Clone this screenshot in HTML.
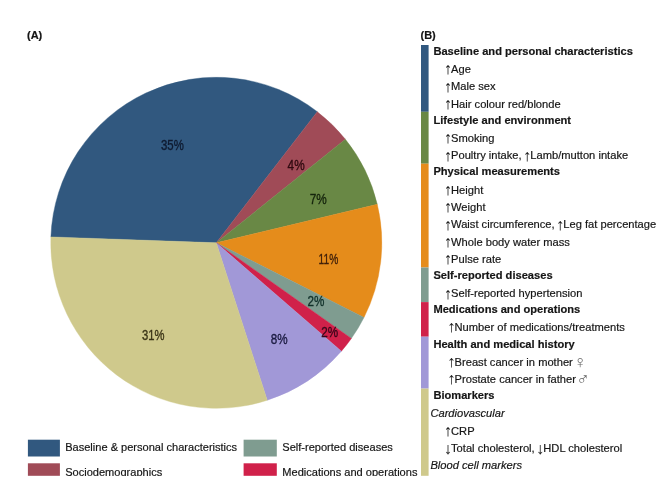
<!DOCTYPE html>
<html lang="en"><head><meta charset="utf-8"><title>Figure</title>
<style>
html,body{margin:0;padding:0;background:#fff;}
body{width:662px;height:491px;overflow:hidden;position:relative;}
svg{position:absolute;left:0;top:0;display:block;}
svg text{font-family:"Liberation Sans","DejaVu Sans",sans-serif;fill:#151515;stroke:#151515;stroke-width:0.18px;}
svg text.pl{fill:#14161c;stroke:#14161c;stroke-width:0.3px;}
svg .sx{fill:#666;stroke:none;}
svg .ar{stroke-width:0.08px;}
</style></head><body>
<svg width="662" height="491" viewBox="0 0 662 491">
<defs><clipPath id="crop"><rect x="0" y="0" width="662" height="476"/></clipPath></defs>
<rect width="662" height="491" fill="#ffffff"/>
<g clip-path="url(#crop)">
<g>
<path d="M216.30,242.80 L50.90,236.91 A165.5,165.5 0 0 1 317.28,111.68 Z" fill="#31587f" stroke="#31587f" stroke-width="0.4"/>
<path d="M216.30,242.80 L317.28,111.68 A165.5,165.5 0 0 1 345.37,139.21 Z" fill="#a04b57" stroke="#a04b57" stroke-width="0.4"/>
<path d="M216.30,242.80 L345.37,139.21 A165.5,165.5 0 0 1 377.26,204.31 Z" fill="#698845" stroke="#698845" stroke-width="0.4"/>
<path d="M216.30,242.80 L377.26,204.31 A165.5,165.5 0 0 1 364.02,317.42 Z" fill="#e58c1b" stroke="#e58c1b" stroke-width="0.4"/>
<path d="M216.30,242.80 L364.02,317.42 A165.5,165.5 0 0 1 351.37,338.44 Z" fill="#7f9c90" stroke="#7f9c90" stroke-width="0.4"/>
<path d="M216.30,242.80 L351.37,338.44 A165.5,165.5 0 0 1 341.39,351.16 Z" fill="#d0214a" stroke="#d0214a" stroke-width="0.4"/>
<path d="M216.30,242.80 L341.39,351.16 A165.5,165.5 0 0 1 267.28,400.25 Z" fill="#a198d7" stroke="#a198d7" stroke-width="0.4"/>
<path d="M216.30,242.80 L267.28,400.25 A165.5,165.5 0 0 1 50.90,236.91 Z" fill="#cfc98c" stroke="#cfc98c" stroke-width="0.4"/>
</g>
<g>
<text transform="translate(172.4,149.9) scale(0.78,1)" text-anchor="middle" font-size="14.6" style="fill:#0e1a30;stroke:#0e1a30;stroke-width:0.35px">35%</text>
<text transform="translate(296.1,170.3) scale(0.81,1)" text-anchor="middle" font-size="14.6" style="fill:#300a10;stroke:#300a10;stroke-width:0.35px">4%</text>
<text transform="translate(318.2,203.6) scale(0.81,1)" text-anchor="middle" font-size="14.6" style="fill:#15240c;stroke:#15240c;stroke-width:0.35px">7%</text>
<text transform="translate(328.4,264.3) scale(0.7,1)" text-anchor="middle" font-size="14.6" style="fill:#40200a;stroke:#40200a;stroke-width:0.35px">11%</text>
<text transform="translate(316.0,305.7) scale(0.8,1)" text-anchor="middle" font-size="14.6" style="fill:#10302a;stroke:#10302a;stroke-width:0.35px">2%</text>
<text transform="translate(329.8,337.0) scale(0.8,1)" text-anchor="middle" font-size="14.6" style="fill:#38061a;stroke:#38061a;stroke-width:0.35px">2%</text>
<text transform="translate(279.2,344.0) scale(0.8,1)" text-anchor="middle" font-size="14.6" style="fill:#1a1a40;stroke:#1a1a40;stroke-width:0.35px">8%</text>
<text transform="translate(153.2,339.5) scale(0.77,1)" text-anchor="middle" font-size="14.6" style="fill:#3a3416;stroke:#3a3416;stroke-width:0.35px">31%</text>
</g>
<text x="27" y="39.2" font-size="11" font-weight="bold">(A)</text>
<text x="420.5" y="39.3" font-size="11" font-weight="bold">(B)</text>
<g>
<rect x="421.0" y="45.00" width="7.6" height="66.80" fill="#31587f"/>
<rect x="421.0" y="111.80" width="7.6" height="51.90" fill="#698845"/>
<rect x="421.0" y="163.70" width="7.6" height="103.80" fill="#e58c1b"/>
<rect x="421.0" y="267.50" width="7.6" height="34.60" fill="#7f9c90"/>
<rect x="421.0" y="302.10" width="7.6" height="34.60" fill="#d0214a"/>
<rect x="421.0" y="336.70" width="7.6" height="51.90" fill="#a198d7"/>
<rect x="421.0" y="388.60" width="7.6" height="87.20" fill="#cfc98c"/>
</g>
<g>
<text x="433.4" y="54.60" font-size="11.12" font-weight="bold">Baseline and personal characteristics</text>
<text x="445.5" y="73.19" font-size="11.15"><tspan font-size="16.1" dx="-1.64" dy="1.20" class="ar">↑</tspan><tspan dx="-0.85" dy="-1.20">Age</tspan></text>
<text x="445.5" y="90.43" font-size="11.15"><tspan font-size="16.1" dx="-1.64" dy="1.20" class="ar">↑</tspan><tspan dx="-0.85" dy="-1.20">Male sex</tspan></text>
<text x="445.5" y="107.67" font-size="11.15"><tspan font-size="16.1" dx="-1.64" dy="1.20" class="ar">↑</tspan><tspan dx="-0.85" dy="-1.20">Hair colour red/blonde</tspan></text>
<text x="433.4" y="123.56" font-size="11.12" font-weight="bold">Lifestyle and environment</text>
<text x="445.5" y="142.15" font-size="11.15"><tspan font-size="16.1" dx="-1.64" dy="1.20" class="ar">↑</tspan><tspan dx="-0.85" dy="-1.20">Smoking</tspan></text>
<text x="445.5" y="159.39" font-size="11.15"><tspan font-size="16.1" dx="-1.64" dy="1.20" class="ar">↑</tspan><tspan dx="-0.85" dy="-1.20">Poultry intake, </tspan><tspan font-size="16.1" dx="-1.64" dy="1.20" class="ar">↑</tspan><tspan dx="-0.85" dy="-1.20">Lamb/mutton intake</tspan></text>
<text x="433.4" y="175.28" font-size="11.12" font-weight="bold">Physical measurements</text>
<text x="445.5" y="193.87" font-size="11.15"><tspan font-size="16.1" dx="-1.64" dy="1.20" class="ar">↑</tspan><tspan dx="-0.85" dy="-1.20">Height</tspan></text>
<text x="445.5" y="211.11" font-size="11.15"><tspan font-size="16.1" dx="-1.64" dy="1.20" class="ar">↑</tspan><tspan dx="-0.85" dy="-1.20">Weight</tspan></text>
<text x="445.5" y="228.35" font-size="11.15"><tspan font-size="16.1" dx="-1.64" dy="1.20" class="ar">↑</tspan><tspan dx="-0.85" dy="-1.20">Waist circumference, </tspan><tspan font-size="16.1" dx="-1.64" dy="1.20" class="ar">↑</tspan><tspan dx="-0.85" dy="-1.20">Leg fat percentage</tspan></text>
<text x="445.5" y="245.59" font-size="11.15"><tspan font-size="16.1" dx="-1.64" dy="1.20" class="ar">↑</tspan><tspan dx="-0.85" dy="-1.20">Whole body water mass</tspan></text>
<text x="445.5" y="262.83" font-size="11.15"><tspan font-size="16.1" dx="-1.64" dy="1.20" class="ar">↑</tspan><tspan dx="-0.85" dy="-1.20">Pulse rate</tspan></text>
<text x="433.4" y="278.72" font-size="11.12" font-weight="bold">Self-reported diseases</text>
<text x="445.5" y="297.31" font-size="11.15"><tspan font-size="16.1" dx="-1.64" dy="1.20" class="ar">↑</tspan><tspan dx="-0.85" dy="-1.20">Self-reported hypertension</tspan></text>
<text x="433.4" y="313.20" font-size="11.12" font-weight="bold">Medications and operations</text>
<text x="449.0" y="331.14" font-size="11.15"><tspan font-size="16.1" dx="-1.64" dy="1.20" class="ar">↑</tspan><tspan dx="-0.85" dy="-1.20">Number of medications/treatments</tspan></text>
<text x="433.4" y="347.68" font-size="11.12" font-weight="bold">Health and medical history</text>
<text x="449.0" y="365.62" font-size="11.15"><tspan font-size="16.1" dx="-1.64" dy="1.20" class="ar">↑</tspan><tspan dx="-0.85" dy="-1.20">Breast cancer in mother </tspan><tspan font-size="18" dx="-2.5" dy="2.10" class="sx">♀</tspan></text>
<text x="449.0" y="382.86" font-size="11.15"><tspan font-size="16.1" dx="-1.64" dy="1.20" class="ar">↑</tspan><tspan dx="-0.85" dy="-1.20">Prostate cancer in father </tspan><tspan font-size="18" dx="-2.9" dy="2.00" class="sx">♂</tspan></text>
<text x="433.4" y="399.40" font-size="11.12" font-weight="bold">Biomarkers</text>
<text x="430.4" y="417.24" font-size="11.15" font-style="italic">Cardiovascular</text>
<text x="445.5" y="435.23" font-size="11.15"><tspan font-size="16.1" dx="-1.64" dy="1.20" class="ar">↑</tspan><tspan dx="-0.85" dy="-1.20">CRP</tspan></text>
<text x="445.5" y="452.47" font-size="11.15"><tspan font-size="16.1" dx="-1.64" dy="1.20" class="ar">↓</tspan><tspan dx="-0.85" dy="-1.20">Total cholesterol, </tspan><tspan font-size="16.1" dx="-1.64" dy="1.20" class="ar">↓</tspan><tspan dx="-0.85" dy="-1.20">HDL cholesterol</tspan></text>
<text x="430.4" y="468.96" font-size="11.15" font-style="italic">Blood cell markers</text>
</g>
<g>
<rect x="27.9" y="439.7" width="32" height="16.8" fill="#31587f"/>
<rect x="27.9" y="463.3" width="32" height="12.5" fill="#a04b57"/>
<rect x="243.6" y="439.7" width="33.2" height="16.8" fill="#7f9c90"/>
<rect x="243.6" y="463.3" width="33.2" height="12.5" fill="#d0214a"/>
<text x="65.2" y="451.3" font-size="11.05">Baseline &amp; personal characteristics</text>
<text x="65.2" y="475.7" font-size="11.05">Sociodemographics</text>
<text x="282.3" y="451.3" font-size="11.05">Self-reported diseases</text>
<text x="282.3" y="475.7" font-size="11.05">Medications and operations</text>
</g>
</g>
</svg>
</body></html>
